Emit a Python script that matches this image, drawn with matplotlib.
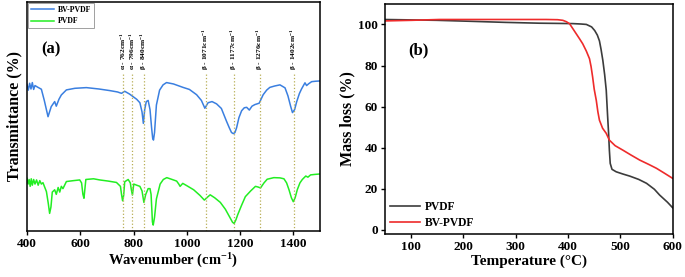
import matplotlib
matplotlib.use("Agg")
import matplotlib.pyplot as plt

plt.rcParams['font.family'] = ['Liberation Serif', 'DejaVu Serif']
plt.rcParams['font.weight'] = 'bold'
plt.rcParams['mathtext.fontset'] = 'custom'
plt.rcParams['mathtext.rm'] = 'Liberation Serif:bold'
plt.rcParams['mathtext.it'] = 'Liberation Serif:bold'
plt.rcParams['mathtext.bf'] = 'Liberation Serif:bold'

# FTIR data (a)
wn_bv = [400, 405, 410, 415, 420, 425, 430, 440, 454, 465, 479, 491, 504, 510, 520, 529, 548,
         580, 623, 670, 711, 740, 755, 767, 785, 798, 812, 824, 832, 837, 842, 848, 855, 862,
         868, 872, 875, 879, 886, 898, 911, 924, 950, 986, 1010, 1037, 1055, 1068, 1080, 1095,
         1112, 1130, 1149, 1160, 1168, 1175, 1181, 1187, 1196, 1206, 1216, 1225, 1235, 1245,
         1256, 1272, 1287, 1300, 1312, 1330, 1350, 1369, 1380, 1390, 1397, 1405, 1413, 1423,
         1431, 1444, 1450, 1458, 1469, 1485, 1500]
t_bv = [64.0, 61.5, 64.5, 62.0, 64.8, 61.8, 63.5, 62.8, 61.9, 57.0, 49.9, 54.3, 56.5, 54.5, 57.5,
        59.4, 61.6, 62.3, 62.6, 62.0, 61.3, 60.7, 60.1, 61.0, 59.8, 58.7, 57.5, 56.0, 52.0, 47.0,
        53.0, 56.5, 57.0, 53.0, 45.0, 40.5, 39.7, 43.0, 55.0, 61.5, 63.8, 64.8, 64.2, 62.7,
        61.8, 59.5, 57.0, 53.6, 56.0, 56.5, 55.5, 53.5, 48.0, 45.0, 43.0, 42.5, 43.0, 45.0,
        49.5, 52.5, 53.8, 54.0, 52.8, 54.5, 55.2, 55.8, 59.5, 61.5, 62.7, 63.3, 63.8, 62.5,
        59.0, 54.5, 51.7, 53.0, 56.5, 60.0, 62.0, 64.7, 63.5, 64.3, 65.2, 65.4, 65.5]

wn_pv = [400, 404, 408, 412, 416, 420, 425, 430, 436, 442, 448, 454, 460, 473, 480, 485, 490,
         495, 504, 510, 517, 523, 529, 535, 548, 575, 598, 605, 610, 614, 621, 650, 673, 705,
         736, 751, 755, 759, 763, 767, 780, 788, 792, 796, 801, 812, 824, 832, 839, 846, 855,
         862, 866, 869, 871, 874, 879, 886, 900, 912, 925, 945, 962, 970, 975, 985, 1000, 1026,
         1050, 1066, 1078, 1088, 1105, 1126, 1145, 1164, 1172, 1178, 1185, 1191, 1205, 1220,
         1240, 1258, 1268, 1277, 1290, 1302, 1327, 1350, 1365, 1375, 1384, 1393, 1400, 1407,
         1415, 1425, 1434, 1447, 1455, 1465, 1480, 1500]
t_pv = [23.0, 20.5, 22.5, 19.5, 22.8, 20.0, 22.5, 20.5, 22.3, 20.0, 22.0, 20.5, 21.1, 17.2,
        12.0, 7.7, 10.5, 17.0, 18.0, 16.0, 19.0, 17.0, 19.5, 18.5, 21.6, 22.0, 22.3, 21.0, 16.0,
        14.3, 22.5, 22.8, 22.3, 21.8, 21.2, 19.5, 16.0, 13.2, 15.5, 21.5, 22.5, 21.0, 18.0,
        15.7, 20.5, 20.0, 19.5, 17.5, 12.5, 16.0, 18.5, 18.5, 16.0, 9.0, 4.0, 2.6, 6.0, 14.0,
        20.5, 22.5, 23.3, 22.5, 21.8, 20.5, 19.5, 20.8, 19.8, 18.0, 15.5, 13.5, 14.8, 15.8,
        14.5, 12.5, 9.5, 5.5, 3.8, 3.3, 5.0, 7.0, 11.0, 15.0, 17.5, 19.5, 19.2, 18.8, 21.0, 22.6,
        23.3, 23.2, 22.8, 21.0, 18.0, 14.5, 12.8, 14.5, 18.0, 21.0, 22.5, 24.0, 23.5, 24.5, 24.7,
        24.9]

peak_pos = [762, 796, 840, 1071, 1177, 1276, 1402]
peak_lab = ['α - 762cm$^{-1}$', 'α - 796cm$^{-1}$', 'β - 840cm$^{-1}$', 'β - 1071cm$^{-1}$',
            'β - 1177cm$^{-1}$', 'β - 1276cm$^{-1}$', 'β - 1402cm$^{-1}$']

# TGA data (b)
temp_pvdf = [48, 100, 150, 217, 280, 345, 380, 409, 425, 435, 445, 451, 456, 460, 463, 466.5,
             470, 473, 475.5, 477.5, 479, 480.6, 484, 492, 505, 518, 535, 550, 565, 575, 590, 600]
mass_pvdf = [102.4, 102.2, 102.0, 101.5, 101.0, 100.6, 100.5, 100.4, 100.2, 100.0, 98.8, 97.0,
             94.8, 92.0, 88.0, 82.5, 75.5, 68.0, 56.0, 47.0, 38.8, 32.4, 29.5, 28.3, 27.2, 26.2,
             24.6, 22.7, 19.8, 17.0, 13.5, 10.8]
temp_bv = [48, 100, 154, 250, 358, 380, 390, 397, 403, 409, 415.5, 422, 428, 435, 441, 444,
           447, 450, 454, 457, 460, 466, 473, 479, 490, 505, 520, 537, 555, 569, 585, 600]
mass_bv = [101.7, 102.0, 102.4, 102.4, 102.4, 102.3, 102.0, 101.3, 100.3, 98.0, 95.5, 93.0,
           90.6, 87.0, 83.3, 79.5, 74.4, 68.5, 63.0, 57.5, 53.4, 49.5, 47.0, 43.7, 41.0, 38.8,
           36.5, 34.0, 31.8, 30.0, 27.5, 25.1]

fig = plt.figure(figsize=(6.85, 2.77), dpi=100)

# (a) FTIR
ax1 = fig.add_axes([0.0394, 0.166, 0.4276, 0.827])
ax1.plot(wn_bv, t_bv, color='#3a7fe0', lw=1.1, label='BV-PVDF')
ax1.plot(wn_pv, t_pv, color='#22ee22', lw=1.1, label='PVDF')
for p, lab in zip(peak_pos, peak_lab):
    ax1.plot([p, p], [0, 69], color='#b8ae55', lw=0.9, ls=':')
    ax1.text(p, 70.5, lab, rotation=90, ha='center', va='bottom', fontsize=5.3,
             fontweight='bold')
ax1.set_xlim(400, 1500)
ax1.set_ylim(0, 100)
ax1.set_yticks([])
ax1.set_xticks([400, 600, 800, 1000, 1200, 1400])
ax1.tick_params(axis='x', labelsize=9.5, length=3, width=1, pad=2)
ax1.set_xlabel('Wavenumber (cm$^{-1}$)', fontsize=10.5, fontweight='bold', labelpad=1)
ax1.set_ylabel('Transmittance (%)', fontsize=11.5, fontweight='bold', labelpad=3)
ax1.text(0.05, 0.775, '(a)', transform=ax1.transAxes, fontsize=12, fontweight='bold')
leg1 = ax1.legend(loc='upper left', fontsize=5.6, frameon=True, fancybox=False,
                  borderaxespad=0.15, handlelength=3.0, handletextpad=0.5,
                  borderpad=0.35, labelspacing=0.45)
leg1.get_frame().set_edgecolor('#888888')
leg1.get_frame().set_linewidth(0.7)
for s in ax1.spines.values():
    s.set_linewidth(1.1)

# (b) TGA
ax2 = fig.add_axes([0.562, 0.155, 0.420, 0.831])
ax2.plot(temp_pvdf, mass_pvdf, color='#3c3c3c', lw=1.2, label='PVDF')
ax2.plot(temp_bv, mass_bv, color='#ee2b2b', lw=1.2, label='BV-PVDF')
ax2.set_xlim(50, 600)
ax2.set_ylim(-2, 110)
ax2.set_xticks([100, 200, 300, 400, 500, 600])
ax2.set_yticks([0, 20, 40, 60, 80, 100])
ax2.tick_params(labelsize=9.5, length=3, width=1, pad=2)
ax2.set_xlabel('Temperature (°C)', fontsize=11, fontweight='bold', labelpad=1)
ax2.set_ylabel('Mass loss (%)', fontsize=11.5, fontweight='bold', labelpad=2)
ax2.text(0.08, 0.78, '(b)', transform=ax2.transAxes, fontsize=12, fontweight='bold')
ax2.legend(loc='lower left', fontsize=8.3, frameon=False, handlelength=2.6,
           handletextpad=0.4, borderaxespad=0.05, labelspacing=0.3)
for s in ax2.spines.values():
    s.set_linewidth(1.1)

for ax in (ax1, ax2):
    for lbl in ax.get_xticklabels() + ax.get_yticklabels():
        lbl.set_fontweight('bold')

fig.savefig('out.png', dpi=100)
